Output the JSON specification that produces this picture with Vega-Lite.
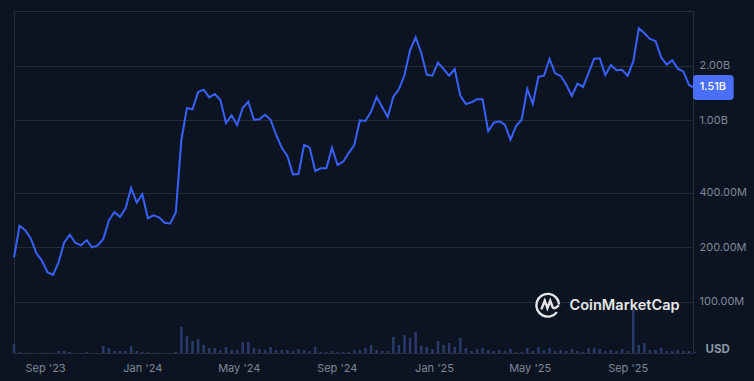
{"$schema":"https://vega.github.io/schema/vega-lite/v6.json","width":679,"height":342,"autosize":{"type":"none"},"padding":{"left":14,"top":11,"right":61,"bottom":28},"background":"#0b1420","config":{"view":{"stroke":"#262e3a","strokeWidth":1},"font":"Inter"},"datasets":{"series":[
{"date":"2023-07-24","price":1.76e8,"volume":9e8},{"date":"2023-07-31","price":2.63e8,"volume":1e8},{"date":"2023-08-07","price":2.49e8,"volume":2e7},{"date":"2023-08-14","price":2.24e8,"volume":2e7},{"date":"2023-08-21","price":1.86e8,"volume":2e7},{"date":"2023-08-28","price":1.69e8,"volume":2e7},{"date":"2023-09-04","price":1.46e8,"volume":2e7},{"date":"2023-09-11","price":1.41e8,"volume":2e7},{"date":"2023-09-18","price":1.66e8,"volume":2e8},{"date":"2023-09-25","price":2.13e8,"volume":2e8},
{"date":"2023-10-02","price":2.35e8,"volume":1e8},{"date":"2023-10-09","price":2.12e8,"volume":2e7},{"date":"2023-10-16","price":2.05e8,"volume":2e7},{"date":"2023-10-23","price":2.19e8,"volume":1e8},{"date":"2023-10-30","price":2.0e8,"volume":2e7},{"date":"2023-11-06","price":2.05e8,"volume":2e7},{"date":"2023-11-13","price":2.22e8,"volume":7e8},{"date":"2023-11-20","price":2.81e8,"volume":5e8},{"date":"2023-11-27","price":3.13e8,"volume":2e8},{"date":"2023-12-04","price":2.94e8,"volume":2e8},
{"date":"2023-12-11","price":3.28e8,"volume":2e8},{"date":"2023-12-18","price":4.25e8,"volume":7e8},{"date":"2023-12-25","price":3.53e8,"volume":2e8},{"date":"2024-01-01","price":3.92e8,"volume":1e8},{"date":"2024-01-08","price":2.89e8,"volume":1e8},{"date":"2024-01-15","price":3.0e8,"volume":2e7},{"date":"2024-01-22","price":2.93e8,"volume":2e7},{"date":"2024-01-29","price":2.73e8,"volume":2e7},{"date":"2024-02-05","price":2.71e8,"volume":2e7},{"date":"2024-02-12","price":3.11e8,"volume":1e8},
{"date":"2024-02-19","price":7.81e8,"volume":2.6e9},{"date":"2024-02-26","price":1.172e9,"volume":1.7e9},{"date":"2024-03-04","price":1.153e9,"volume":1.2e9},{"date":"2024-03-11","price":1.436e9,"volume":1.4e9},{"date":"2024-03-18","price":1.478e9,"volume":8e8},{"date":"2024-03-25","price":1.342e9,"volume":5e8},{"date":"2024-04-01","price":1.4e9,"volume":5e8},{"date":"2024-04-08","price":1.297e9,"volume":3e8},{"date":"2024-04-15","price":9.69e8,"volume":6e8},{"date":"2024-04-22","price":1.068e9,"volume":3e8},
{"date":"2024-04-29","price":9.45e8,"volume":3e8},{"date":"2024-05-06","price":1.172e9,"volume":1.1e9},{"date":"2024-05-13","price":1.269e9,"volume":1.1e9},{"date":"2024-05-20","price":1.01e9,"volume":5e8},{"date":"2024-05-27","price":1.015e9,"volume":4e8},{"date":"2024-06-03","price":1.076e9,"volume":3e8},{"date":"2024-06-10","price":1.01e9,"volume":6e8},{"date":"2024-06-17","price":8.32e8,"volume":3e8},{"date":"2024-06-24","price":7.08e8,"volume":3e8},{"date":"2024-07-01","price":6.38e8,"volume":3e8},
{"date":"2024-07-08","price":5.05e8,"volume":2e8},{"date":"2024-07-15","price":5.07e8,"volume":4e8},{"date":"2024-07-22","price":7.33e8,"volume":3e8},{"date":"2024-07-29","price":7.08e8,"volume":2e8},{"date":"2024-08-05","price":5.27e8,"volume":6e8},{"date":"2024-08-12","price":5.45e8,"volume":1e8},{"date":"2024-08-19","price":5.45e8,"volume":1e8},{"date":"2024-08-26","price":7.08e8,"volume":2e8},{"date":"2024-09-02","price":5.69e8,"volume":1e8},{"date":"2024-09-09","price":5.93e8,"volume":1e8},
{"date":"2024-09-16","price":6.62e8,"volume":1e8},{"date":"2024-09-23","price":7.33e8,"volume":3e8},{"date":"2024-09-30","price":1.003e9,"volume":3e8},{"date":"2024-10-07","price":9.94e8,"volume":5e8},{"date":"2024-10-14","price":1.118e9,"volume":8e8},{"date":"2024-10-21","price":1.347e9,"volume":3e8},{"date":"2024-10-28","price":1.187e9,"volume":2e8},{"date":"2024-11-04","price":1.045e9,"volume":2e8},{"date":"2024-11-11","price":1.352e9,"volume":1.6e9},{"date":"2024-11-18","price":1.485e9,"volume":8e8},
{"date":"2024-11-25","price":1.781e9,"volume":1.8e9},{"date":"2024-12-02","price":2.445e9,"volume":1.5e9},{"date":"2024-12-09","price":2.873e9,"volume":2.1e9},{"date":"2024-12-16","price":2.364e9,"volume":7e8},{"date":"2024-12-23","price":1.788e9,"volume":6e8},{"date":"2024-12-30","price":1.765e9,"volume":4e8},{"date":"2025-01-06","price":2.082e9,"volume":1.2e9},{"date":"2025-01-13","price":1.922e9,"volume":8e8},{"date":"2025-01-20","price":1.765e9,"volume":1e9},{"date":"2025-01-27","price":1.922e9,"volume":6e8},
{"date":"2025-02-03","price":1.37e9,"volume":1.5e9},{"date":"2025-02-10","price":1.233e9,"volume":5e8},{"date":"2025-02-17","price":1.26e9,"volume":2e8},{"date":"2025-02-24","price":1.309e9,"volume":4e8},{"date":"2025-03-03","price":1.309e9,"volume":5e8},{"date":"2025-03-10","price":8.75e8,"volume":3e8},{"date":"2025-03-17","price":9.72e8,"volume":2e8},{"date":"2025-03-24","price":9.9e8,"volume":3e8},{"date":"2025-03-31","price":9.48e8,"volume":2e8},{"date":"2025-04-07","price":7.84e8,"volume":4e8},
{"date":"2025-04-14","price":9.33e8,"volume":1e8},{"date":"2025-04-21","price":1.01e9,"volume":1e8},{"date":"2025-04-28","price":1.491e9,"volume":5e8},{"date":"2025-05-05","price":1.233e9,"volume":2e8},{"date":"2025-05-12","price":1.743e9,"volume":6e8},{"date":"2025-05-19","price":1.765e9,"volume":3e8},{"date":"2025-05-26","price":2.183e9,"volume":5e8},{"date":"2025-06-02","price":1.82e9,"volume":2e8},{"date":"2025-06-09","price":1.759e9,"volume":3e8},{"date":"2025-06-16","price":1.575e9,"volume":2e8},
{"date":"2025-06-23","price":1.365e9,"volume":4e8},{"date":"2025-06-30","price":1.595e9,"volume":2e8},{"date":"2025-07-07","price":1.53e9,"volume":1e8},{"date":"2025-07-14","price":1.827e9,"volume":5e8},{"date":"2025-07-21","price":2.191e9,"volume":5e8},{"date":"2025-07-28","price":2.202e9,"volume":4e8},{"date":"2025-08-04","price":1.781e9,"volume":2e8},{"date":"2025-08-11","price":2.022e9,"volume":3e8},{"date":"2025-08-18","price":1.891e9,"volume":2e8},{"date":"2025-08-25","price":1.905e9,"volume":4e8},
{"date":"2025-09-01","price":1.759e9,"volume":2e8},{"date":"2025-09-08","price":2.109e9,"volume":4.3e9},{"date":"2025-09-15","price":3.221e9,"volume":8e8},{"date":"2025-09-22","price":3.022e9,"volume":1e9},{"date":"2025-09-29","price":2.812e9,"volume":3e8},{"date":"2025-10-06","price":2.742e9,"volume":3e8},{"date":"2025-10-13","price":2.23e9,"volume":5e8},{"date":"2025-10-20","price":2.03e9,"volume":2e8},{"date":"2025-10-27","price":2.146e9,"volume":2e8},{"date":"2025-11-03","price":1.929e9,"volume":3e8},
{"date":"2025-11-10","price":1.858e9,"volume":2e8},{"date":"2025-11-17","price":1.569e9,"volume":2e8},{"date":"2025-11-24","price":1.51e9,"volume":1e8}
]},"encoding":{"x":{"field":"date","type":"temporal","title":null,"scale":{"type":"utc","domain":["2023-07-24","2025-11-22"],"padding":0},"axis":{"values":["2023-09-01","2024-01-01","2024-05-01","2024-09-01","2025-01-01","2025-05-01","2025-09-01"],"labelExpr":"utcFormat(datum.value,\"%b '%y\")","grid":false,"domain":false,"ticks":false,"labelColor":"#7e8898","labelFont":"Inter","labelFontSize":11,"labelPadding":9,"labelOverlap":false,"labelFlush":false}}},"layer":[
{"data":{"name":"series"},"mark":{"type":"bar","size":2.5,"color":"#2a3a6b"},"encoding":{"y":{"field":"volume","type":"quantitative","title":null,"scale":{"type":"linear","domain":[0,3.42e10]},"axis":null}}},
{"encoding":{"y":{"field":"price","type":"quantitative","title":null,"scale":{"type":"log","domain":[5.236e7,4.011e9],"nice":false},"axis":{"orient":"right","values":[1e8,2e8,4e8,1e9,2e9],"labelExpr":"datum.value>=1e9?format(datum.value/1e9,'.2f')+'B':format(datum.value/1e6,'.2f')+'M'","grid":true,"gridColor":"#232b37","gridWidth":1,"domain":false,"ticks":false,"labelColor":"#7e8898","labelFont":"Inter","labelFontSize":11,"labelPadding":6,"labelOverlap":false}}},"layer":[
{"data":{"name":"series"},"mark":{"type":"line","color":"#3861fb","strokeWidth":2,"interpolate":"linear"}},
{"data":{"values":[{"date":"2025-11-22","date2":"2026-01-12","price":1.781e9,"price2":1.297e9}]},"mark":{"type":"rect","color":"#4a6ffb","cornerRadius":3,"clip":false},"encoding":{"x2":{"field":"date2"},"y2":{"field":"price2"}}},
{"data":{"values":[{"date":"2025-12-17","price":1.52e9,"label":"1.51B"}]},"mark":{"type":"text","color":"#ffffff","font":"Inter","fontSize":11,"fontWeight":500,"align":"center","baseline":"middle"},"encoding":{"text":{"field":"label"}}},
{"data":{"values":[{"date":"2025-12-23","price":5.47e7,"label":"USD"}]},"mark":{"type":"text","color":"#8c95a5","font":"Inter","fontSize":11.5,"fontWeight":700,"align":"center","baseline":"middle"},"encoding":{"text":{"field":"label"}}},
{"data":{"values":[{"date":"2025-06-20","price":9.5e7,"label":"CoinMarketCap"}]},"mark":{"type":"text","color":"#e4e6e9","font":"Inter","fontSize":14.6,"fontWeight":600,"align":"left","baseline":"middle"},"encoding":{"text":{"field":"label"}}},
{"data":{"values":[{"date":"2025-05-24","price":9.62e7}]},"mark":{"type":"point","shape":"M0.78 0.62A1 1 0 1 1 0.98 -0.05M-0.58 0.38L-0.28 -0.38L-0.05 0.28L0.2 -0.38L0.42 0.2Q0.6 0.4 0.95 0.02","size":520,"filled":false,"stroke":"#e4e6e9","strokeWidth":2.4,"opacity":1},"encoding":{}}
]}
],"resolve":{"scale":{"y":"independent"},"axis":{"y":"independent"}}}
